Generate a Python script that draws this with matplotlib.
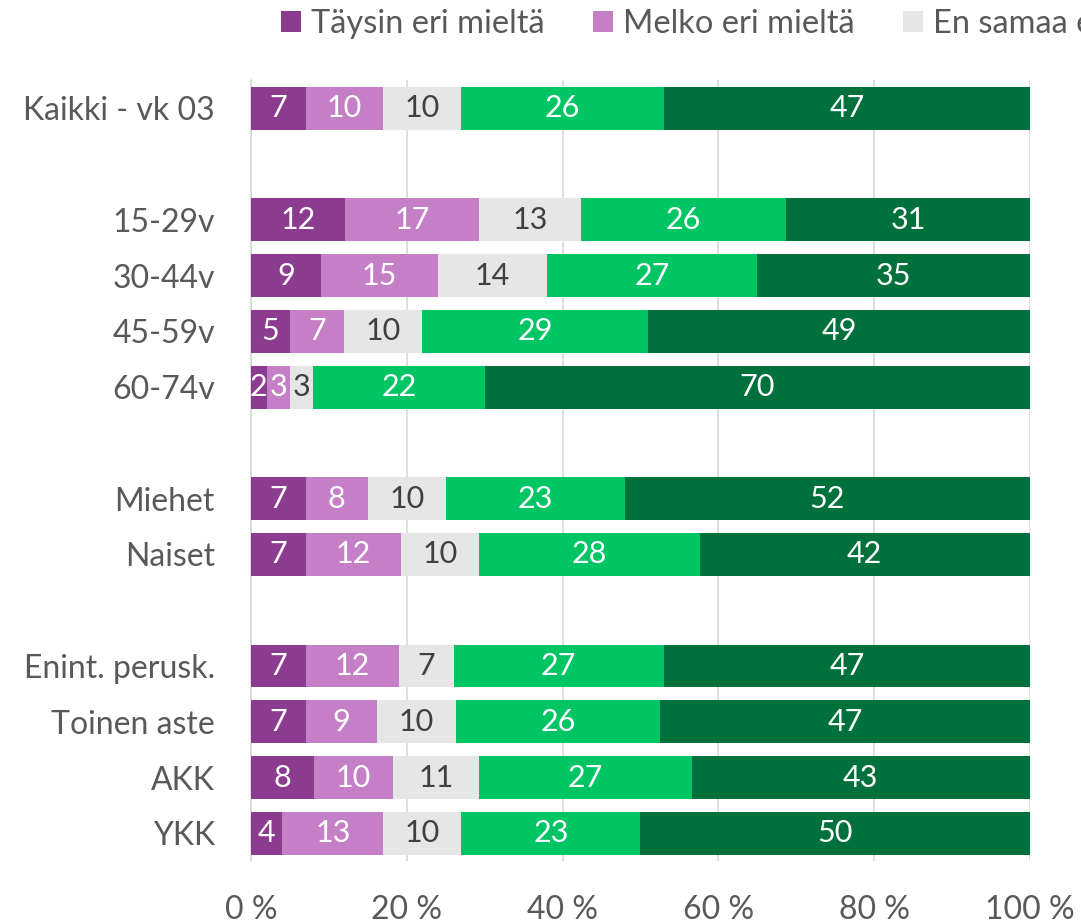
import numpy as np
import matplotlib.pyplot as plt

plt.rcParams['font.family'] = ['Lato', 'DejaVu Sans']

groups = ["Kaikki - vk 03", "", "15-29v", "30-44v", "45-59v", "60-74v", "",
          "Miehet", "Naiset", "", "Enint. perusk.", "Toinen aste", "AKK", "YKK"]
series = ["Täysin eri mieltä", "Melko eri mieltä", "En samaa enkä eri mieltä",
          "Melko samaa mieltä", "Täysin samaa mieltä"]
t_eri = [7, None, 12, 9, 5, 2, None, 7, 7, None, 7, 7, 8, 4]
m_eri = [10, None, 17, 15, 7, 3, None, 8, 12, None, 12, 9, 10, 13]
en_samaa = [10, None, 13, 14, 10, 3, None, 10, 10, None, 7, 10, 11, 10]
m_samaa = [26, None, 26, 27, 29, 22, None, 23, 28, None, 27, 26, 27, 23]
t_samaa = [47, None, 31, 35, 49, 70, None, 52, 42, None, 47, 47, 43, 50]

colors = ["#8B3C8F", "#C47FC6", "#E6E6E6", "#00C565", "#00703C"]
txt_colors = ["white", "white", "#404040", "white", "white"]
grey = "#595959"

data = [t_eri, m_eri, en_samaa, m_samaa, t_samaa]

fig = plt.figure(figsize=(10.81, 9.24), dpi=100)
ax = fig.add_axes([0.2322, 0.068, 0.7206, 0.845])

y = np.arange(len(groups))
left = np.zeros(len(groups))
for k, vals in enumerate(data):
    for i in range(len(groups)):
        if vals[i] is None:
            continue
        tot = sum(d[i] for d in data)
        w = vals[i] / tot * 100
        ax.barh(y[i], w, left=left[i], height=0.77, color=colors[k],
                label=series[k] if i == 0 else None, zorder=3)
        ax.text(left[i] + w / 2, y[i], str(vals[i]), ha='center', va='center',
                color=txt_colors[k], fontsize=22, zorder=4)
        left[i] += w

ax.set_ylim(len(groups) - 0.5, -0.5)
ax.set_xlim(0, 100)
ax.set_yticks(y)
ax.set_yticklabels(groups, fontsize=23, color=grey)
ax.set_xticks(np.arange(0, 101, 20))
ax.set_xticklabels([f"{v} %" for v in range(0, 101, 20)], fontsize=23, color=grey)
ax.tick_params(axis='y', length=0, pad=26)
ax.tick_params(axis='x', length=0, pad=24)
ax.grid(axis='x', color="#D9D9D9", linewidth=1.2, zorder=0)
for s in ['top', 'right', 'bottom']:
    ax.spines[s].set_visible(False)
ax.spines['left'].set_color("#D9D9D9")
ax.spines['left'].set_linewidth(1.2)

fig.legend(loc='upper left', bbox_to_anchor=(0.233, 1.022), ncol=5, frameon=False,
           fontsize=23.5, labelcolor=grey, handlelength=0.6, handleheight=0.6,
           handletextpad=0.3, columnspacing=1.5)

fig.savefig("out.png", dpi=100)
